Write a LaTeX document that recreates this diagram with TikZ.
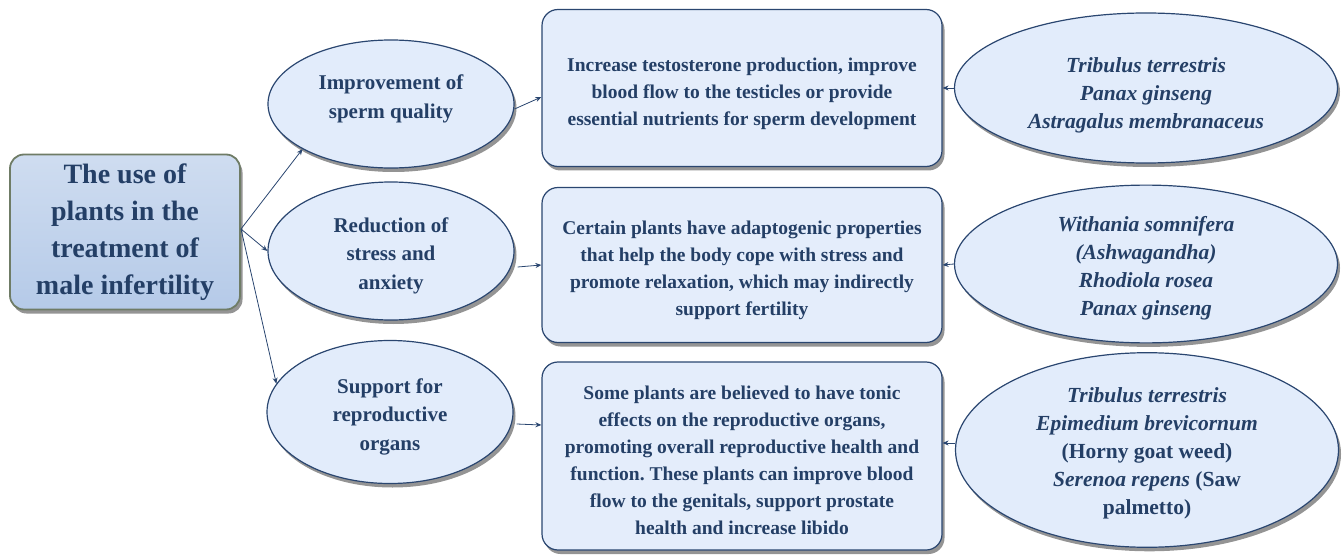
\documentclass[tikz,border=0pt]{standalone}
\usepackage{fontspec}
\setmainfont{Liberation Serif}
\usetikzlibrary{shapes.geometric,shadows,arrows.meta,calc}
\definecolor{txt}{HTML}{243F66}
\definecolor{navy}{HTML}{2A4670}
\definecolor{efill}{HTML}{E2ECFB}
\definecolor{bfill}{HTML}{E4EDFB}
\definecolor{mfill}{HTML}{B5CAE8}
\definecolor{mborder}{HTML}{6F7C66}
\newcommand{\topstrut}[1]{\rule{0pt}{#1}}
\frenchspacing
\begin{document}
\begin{tikzpicture}[x=1pt,y=-1pt,
  shad/.style={drop shadow={shadow xshift=2.5pt,shadow yshift=-4pt,fill=black!70,opacity=0.6}},
  raise/.style={execute at end node={\rule[-#1]{0pt}{1pt}}},
  mainbox/.style={draw=mborder,line width=1.8pt,top color=mfill!65,bottom color=mfill,
    rounded corners=14pt,minimum width=230pt,minimum height=155pt,align=center,
    text=txt,font=\bfseries\fontsize{28}{37}\selectfont,shad},
  midell/.style={ellipse,draw=navy,line width=1.2pt,fill=efill,inner sep=0pt,
    minimum width=246pt,align=center,text=txt,font=\bfseries\fontsize{21}{28.5}\selectfont,shad},
  infobox/.style={draw=navy,line width=1.2pt,fill=bfill,rounded corners=16pt,
    minimum width=400pt,align=center,text=txt,font=\bfseries\fontsize{19.5}{27}\selectfont,shad},
  plantell/.style={ellipse,draw=navy,line width=1.2pt,fill=efill,inner sep=0pt,
    minimum width=383pt,align=center,text=txt,font=\bfseries\fontsize{21.5}{28}\selectfont,shad},
  conn/.style={draw=navy,line width=0.8pt,-{Stealth[length=6pt,width=5pt]}}
]
\useasboundingbox (0,0) rectangle (1344,556);

\node[mainbox] (main) at (125,232) {The use of\\plants in the\\treatment of\\male infertility};

\node[midell,minimum height=128pt,raise=15pt] (e1) at (391,104) {Improvement of\\sperm quality};
\node[midell,minimum height=138pt] (e2) at (391,251) {\topstrut{24pt}Reduction of\\stress and\\anxiety};
\node[midell,minimum height=143pt] (e3) at (390,412) {\topstrut{24pt}Support for\\reproductive\\organs};

\node[infobox,minimum height=157pt] (b1) at (742,88) {\topstrut{25pt}Increase testosterone production, improve\\blood flow to the testicles or provide\\essential nutrients for sperm development};
\node[infobox,minimum height=155pt] (b2) at (742,265) {\topstrut{24pt}Certain plants have adaptogenic properties\\that help the body cope with stress and\\promote relaxation, which may indirectly\\support fertility};
\node[infobox,minimum height=188pt] (b3) at (742,456) {\topstrut{22pt}Some plants are believed to have tonic\\effects on the reproductive organs,\\promoting overall reproductive health and\\function. These plants can improve blood\\flow to the genitals, support prostate\\health and increase libido};

\node[plantell,minimum height=150pt] (p1) at (1146,88) {\topstrut{29pt}\itshape Tribulus terrestris\\\itshape Panax ginseng\\\itshape Astragalus membranaceus};
\node[plantell,minimum height=152pt] (p2) at (1146,264) {\topstrut{23pt}\itshape Withania somnifera\\\itshape (Ashwagandha)\\\itshape Rhodiola rosea\\\itshape Panax ginseng};
\node[plantell,minimum height=174pt] (p3) at (1147,450) {\topstrut{21pt}\itshape Tribulus terrestris\\\itshape Epimedium brevicornum\\(Horny goat weed)\\\textit{Serenoa repens} (Saw\\palmetto)};

\coordinate (fan) at (241,229);
\draw[conn] (fan) -- (e1.-153);
\draw[conn] (fan) -- (e2.west);
\draw[conn] (fan) -- (e3.166);

\draw[conn] ($(e1.east)+(0,5)$) -- ($(b1.west)+(0,9)$);
\draw[conn] ($(e2.east)+(3,16)$) -- (b2.west);
\draw[conn] ($(e3.east)+(3,12)$) -- ($(b3.west)+(0,-31)$);

\draw[conn] (p1.west) -- (b1.east);
\draw[conn] (p2.west) -- (b2.east);
\draw[conn] ($(p3.west)+(0,-7)$) -- ($(b3.east)+(0,-13)$);
\end{tikzpicture}
\end{document}
